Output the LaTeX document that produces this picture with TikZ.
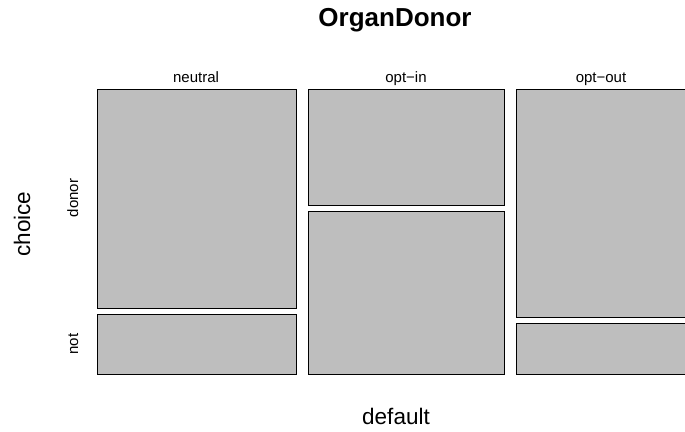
\documentclass[tikz,border=0pt]{standalone}
\usepackage{fontspec}
\setmainfont{Liberation Sans}
\definecolor{tilegray}{HTML}{BEBEBE}
\tikzset{
  tile/.style={draw=black, fill=tilegray, line width=1pt},
  levellabel/.style={font=\fontsize{15}{15}\selectfont, inner sep=0pt},
  axislabel/.style={font=\fontsize{22.5}{22.5}\selectfont, inner sep=0pt}
}
\begin{document}
\begin{tikzpicture}[x=1pt, y=-1pt]
    \useasboundingbox (0,0) rectangle (685,431);

    % Title
    \node[font=\fontsize{26}{26}\bfseries, anchor=base] (title) at (395,27) {OrganDonor};

    % Tiles: neutral
    \draw[tile] (97,89) rectangle (296,308);
    \draw[tile] (97,314) rectangle (296,374);
    % Tiles: opt-in
    \draw[tile] (308,89) rectangle (504,205);
    \draw[tile] (308,211) rectangle (504,374);
    % Tiles: opt-out
    \draw[tile] (516,89) rectangle (697,317);
    \draw[tile] (516,323) rectangle (697,374);

    % Level labels
    \node[levellabel, anchor=base] (neutral) at (196,82) {neutral};
    \node[levellabel, anchor=base] (optin) at (406,82) {opt−in};
    \node[levellabel, anchor=base] (optout) at (601,82) {opt−out};
    \node[levellabel, rotate=90, anchor=base] (donor) at (78,198) {donor};
    \node[levellabel, rotate=90, anchor=base] (not) at (78,344) {not};

    % Axis labels
    \node[axislabel, anchor=base] (default) at (396,424) {default};
    \node[axislabel, rotate=90, anchor=base] (choice) at (30,224) {choice};

\end{tikzpicture}
\end{document}
